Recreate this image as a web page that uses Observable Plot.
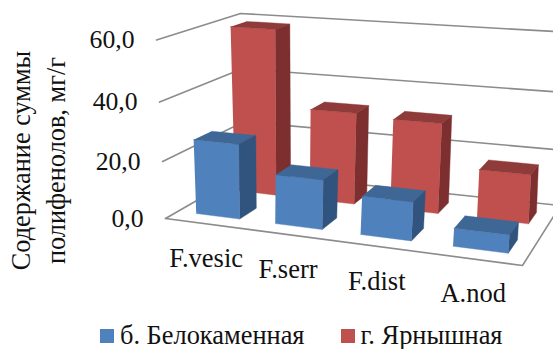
<!DOCTYPE html>
<html lang="ru">
<head>
<meta charset="utf-8">
<script src="https://cdn.jsdelivr.net/npm/d3@7"></script>
<script src="https://cdn.jsdelivr.net/npm/@observablehq/plot@0.6"></script>
<style>
  html, body { margin: 0; padding: 0; background: #fff; overflow: hidden; }
  #legend { display: flex; height: 31px; align-items: center; font: 26.4px "Liberation Serif", serif; color: #111; padding-left: 100px; white-space: nowrap; }
  #legend i { display: inline-block; width: 14px; height: 14px; margin-right: 6px; }
  #legend span { margin-right: 36px; display: flex; align-items: center; }
</style>
</head>
<body>
<div id="chart"></div>
<div id="legend"></div>
<script>
// Polyphenol content per species and site
const categories = ["F.vesic", "F.serr", "F.dist", "A.nod"];
const seriesNames = ["б. Белокаменная", "г. Ярнышная"];
const belokamennaya = [26, 17, 13, 6];
const yarnyshnaya = [59, 32.5, 31.5, 17];
const valueTicks = [0, 20, 40, 60];
const valueMax = 60;

const frameHeight = 320;

// Camera of the 3D box: where the floor and the top plane land on the canvas,
// corners in the order front-left, front-right, back-right, back-left.
const floorCorners = [[165, 218], [522, 265], [560, 205], [245, 172]];
const topCorners = [[156, 39.5], [536, 65], [566, 31.7], [240, 13]];
const heightFalloff = 1.067;

function quadMap([a, b, e, c]) {
  const sx = a[0] - b[0] + e[0] - c[0], sy = a[1] - b[1] + e[1] - c[1];
  const dx1 = b[0] - e[0], dx2 = c[0] - e[0], dy1 = b[1] - e[1], dy2 = c[1] - e[1];
  const den = dx1 * dy2 - dx2 * dy1;
  const g = (sx * dy2 - dx2 * sy) / den, h = (dx1 * sy - sx * dy1) / den;
  return (u, d) => {
    const w = 1 + g * u + h * d;
    return [
      (a[0] + (b[0] - a[0] + g * b[0]) * u + (c[0] - a[0] + h * c[0]) * d) / w,
      (a[1] + (b[1] - a[1] + g * b[1]) * u + (c[1] - a[1] + h * c[1]) * d) / w
    ];
  };
}
const floorAt = quadMap(floorCorners), topAt = quadMap(topCorners);

// u: along the categories, d: into the depth, v: polyphenol value
function project(u, d, v) {
  const s = v / valueMax, t = s / (s + heightFalloff * (1 - s));
  const f = floorAt(u, d), p = topAt(u, d);
  return [f[0] + (p[0] - f[0]) * t, f[1] + (p[1] - f[1]) * t];
}

const blue = { front: "#4f81bd", top: "#3e6796", side: "#30547e" };
const red = { front: "#c0504d", top: "#8f3b3a", side: "#7c2f2e" };
const slots = categories.length;
const barStart = 0.06, barWidth = 0.14;

function barFaces(values, d0, d1, colors, key) {
  return values.flatMap((v, i) => {
    const u0 = i / slots + barStart, u1 = u0 + barWidth;
    const faces = {
      front: [[u0, d0, 0], [u1, d0, 0], [u1, d0, v], [u0, d0, v]],
      top: [[u0, d0, v], [u1, d0, v], [u1, d1, v], [u0, d1, v]],
      side: [[u1, d0, 0], [u1, d1, 0], [u1, d1, v], [u1, d0, v]]
    };
    return Object.entries(faces).flatMap(([name, pts]) =>
      pts.map((p) => {
        const [x, y] = project(...p);
        return { face: `${key}-${i}-${name}`, x, y, color: colors[name] };
      })
    );
  });
}

const gridRows = valueTicks.flatMap((v) => [[0, 0, v], [0, 1, v], [1, 1, v]].map((p) => {
  const [x, y] = project(...p);
  return { v, x, y };
}));
const floorRim = [[0, 0, 0], [1, 0, 0], [1, 1, 0]].map((p) => {
  const [x, y] = project(...p);
  return { x, y };
});

const bars = [
  ...barFaces(yarnyshnaya, 0.62, 0.83, red, "r"),
  ...barFaces(belokamennaya, 0.14, 0.35, blue, "b")
];

const tickRows = valueTicks.map((v) => {
  const [x, y] = project(0, 0, v);
  return { label: v.toFixed(1).replace(".", ","), x, y };
});
const categoryRows = categories.map((label, i) => {
  const [x, y] = project((i + 0.5) / slots, 0, 0);
  return { label, x, y };
});

const chart = Plot.plot({
  width: 553,
  height: frameHeight,
  margin: 0,
  x: { domain: [0, 553], range: [0, 553], axis: null },
  y: { domain: [0, frameHeight], range: [0, frameHeight], axis: null },
  color: { type: "identity" },
  style: { fontFamily: "'Liberation Serif', serif", background: "#fff", color: "#111" },
  marks: [
    Plot.line(gridRows, { x: "x", y: "y", z: "v", stroke: "#8c8c8c", strokeWidth: 1.6 }),
    Plot.line(floorRim, { x: "x", y: "y", stroke: "#8c8c8c", strokeWidth: 1.6 }),
    Plot.line(bars, { x: "x", y: "y", z: "face", fill: "color", stroke: "color", strokeWidth: 0.4 }),
    Plot.text(tickRows, { x: "x", y: "y", text: "label", textAnchor: "end", dx: -22, fontSize: 25.7 }),
    Plot.text(categoryRows, { x: "x", y: "y", text: "label", dx: 2, dy: 35, fontSize: 26.5 }),
    Plot.text(["Содержание суммы\nполифенолов, мг/г"], { frameAnchor: "left", textAnchor: "middle", dx: 36, rotate: -90, lineHeight: 1.3, fontSize: 26.3 })
  ]
});
document.getElementById("chart").append(chart);

document.getElementById("legend").innerHTML = seriesNames
  .map((name, i) => `<span><i style="background:${[blue, red][i].front}"></i>${name}</span>`)
  .join("");
</script>
</body>
</html>
